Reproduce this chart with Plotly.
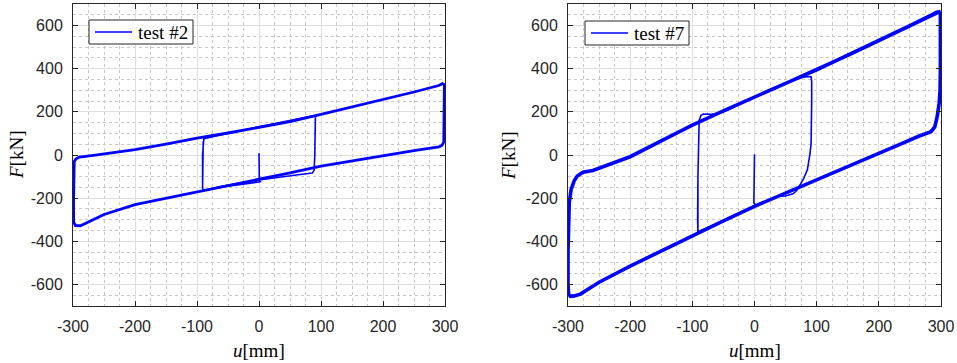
import plotly.graph_objects as go

# ---------------- data: test #2 ----------------
# initial spike + small (±90 mm) cycles
u2_small = [0.0, 0.3, 0.5, 2, -20, -50, -80, -90, -91, -91, -90, -88, -60, -30, 0, 30, 60, 89, 91, 91, 90, 89, 86,
            60, 30, 0, -30, -60, -90, -91, -91, -89, -60, -30, 0, 30, 60, 90]
F2_small = [8, -60, -118, -124, -132, -145, -160, -166, -150, 0, 60, 78, 95, 112, 128, 146, 165, 183, 180, 100, 0, -70, -84,
            -93, -103, -116, -130, -145, -166, -150, 0, 76, 94, 111, 127, 145, 164, 182]
# large (±300 mm) cycle
u2_big = [90, 150, 200, 250, 290, 296, 299, 299, 299, 298, 295, 290, 250, 200, 150, 100, 50, 0, -50, -100, -150, -200,
          -250, -278, -288, -296, -299, -299, -299, -298, -295, -290, -270, -250, -200, -150, -100, -50, 0, 50, 100,
          150, 200, 250, 290, 296, 299, 299]
F2_big = [182, 222, 258, 292, 322, 331, 326, 250, 120, 60, 44, 38, 20, -3, -28, -52, -83, -112, -142, -172, -200, -230,
          -276, -312, -328, -327, -310, -200, -80, -30, -18, -10, -3, 5, 25, 50, 78, 102, 127, 155, 188,
          222, 258, 292, 322, 331, 326, 200]

# ---------------- data: test #7 ----------------
u7_small = [0, -0.5, -1, 2, -20, -50, -80, -91, -91.5, -91, -90, -89, -86, -82, -70, -55, -40, -20, 0, 30, 60, 75, 85,
            91, 92, 92, 92, 91, 89, 85, 79, 73, 68, 62, 50, 36, 20, 0, -20, -50, -80, -91, -91, -89, -86, -82, -70,
            -55, -40, -20, 0, 30, 60]
F7_small = [3, -100, -222, -232, -262, -305, -345, -356, -300, -100, 100, 160, 184, 190, 189, 195, 212, 240, 270, 308,
            345, 358, 364, 363, 340, 250, 150, 50, 0, -69, -110, -138, -165, -180, -190, -192, -212, -238, -262, -305,
            -345, -356, -100, 160, 184, 190, 189, 195, 212, 240, 270, 308, 345]
u7_big = [60, 100, 150, 200, 250, 285, 293, 297, 299, 299.5, 299, 298.5, 297, 294, 290, 284, 275, 265, 230, 200, 150,
          100, 50, 0, -50, -100, -150, -200, -250, -280, -290, -296, -299, -300, -300, -299.5, -298, -295, -290, -285,
          -280, -276, -260, -250, -225, -200, -150, -100, -50, 0, 50, 100, 150, 200, 250, 285, 293, 297, 299]
F7_big = [345, 395, 462, 530, 600, 650, 662, 663, 655, 550, 400, 300, 240, 180, 130, 108, 100, 88, 45, 8, -50,
          -112, -175, -238, -305, -375, -445, -515, -590, -645, -653, -655, -645, -600, -450, -320, -220, -160, -120, -97,
          -85, -80, -72, -62, -36, -8, 65, 138, 205, 270, 332, 395, 462, 530, 600, 650, 662, 663, 655]

# ticks
x_ticks = [-300, -200, -100, 0, 100, 200, 300]
x_text = ["-300", "-200", "-100", "0", "100", "200", "300"]
y_ticks = [-600, -400, -200, 0, 200, 400, 600]
y_text = ["-600", "-400", "-200", "0", "200", "400", "600"]
legend_names = ["test #2", "test #7"]

BLUE = "#0000FF"
AX = "#262626"
W, H = 957, 363

fig = go.Figure()
fig.add_trace(go.Scatter(x=u2_small, y=F2_small, mode="lines", line=dict(color=BLUE, width=1.6),
                         name=legend_names[0], xaxis="x", yaxis="y", showlegend=False))
fig.add_trace(go.Scatter(x=u2_big, y=F2_big, mode="lines", line=dict(color=BLUE, width=2.8),
                         name=legend_names[0], showlegend=False, xaxis="x", yaxis="y"))
fig.add_trace(go.Scatter(x=u7_small, y=F7_small, mode="lines", line=dict(color=BLUE, width=1.6),
                         name=legend_names[1], xaxis="x2", yaxis="y2", showlegend=False))
fig.add_trace(go.Scatter(x=u7_big, y=F7_big, mode="lines", line=dict(color=BLUE, width=3.6),
                         name=legend_names[1], showlegend=False, xaxis="x2", yaxis="y2"))

ydom = [1 - 306 / H, 1 - 4 / H]
dom1 = [73 / W, 445 / W]
dom2 = [568 / W, 941 / W]

tickfont = dict(family="Liberation Sans, Arial, sans-serif", size=16, color=AX)


def xaxis(dom, anchor):
    return dict(domain=dom, anchor=anchor, range=[-300, 300], tickvals=x_ticks, ticktext=x_text,
                showline=True, linecolor=AX, linewidth=1, mirror="ticks", ticks="inside", ticklen=5,
                tickcolor=AX, tickfont=tickfont, showgrid=True, gridcolor="#dedede", gridwidth=1,
                zeroline=False, ticklabelstandoff=6, automargin=False,
                minor=dict(dtick=25, tick0=0, showgrid=True, gridcolor="#c8c8c8", griddash="dot", gridwidth=1,
                           ticks=""))


def yaxis(anchor):
    return dict(domain=ydom, anchor=anchor, range=[-700, 700], tickvals=y_ticks, ticktext=y_text,
                showline=True, linecolor=AX, linewidth=1, mirror="ticks", ticks="inside", ticklen=5,
                tickcolor=AX, tickfont=tickfont, showgrid=True, gridcolor="#dedede", gridwidth=1,
                zeroline=False, ticklabelstandoff=6, automargin=False,
                minor=dict(dtick=50, tick0=0, showgrid=True, gridcolor="#c8c8c8", griddash="dot", gridwidth=1,
                           ticks=""))


serif = "Liberation Serif, Times New Roman, serif"

fig.update_layout(
    width=W, height=H, margin=dict(l=0, r=0, t=0, b=0, autoexpand=False),
    paper_bgcolor="white", plot_bgcolor="white", showlegend=False,
    xaxis=xaxis(dom1, "y"), yaxis=yaxis("x"),
    xaxis2=xaxis(dom2, "y2"), yaxis2=yaxis("x2"),
)

# legend boxes (drawn in pixel positions converted to paper coords)
def px(x):
    return x / W


def py(y):
    return 1 - y / H


for (bx, by), name in zip([(89, 20), (585, 21)], legend_names):
    fig.add_shape(type="rect", xref="paper", yref="paper", x0=px(bx), x1=px(bx + 104), y0=py(by), y1=py(by + 24),
                  line=dict(color=AX, width=1), fillcolor="white", layer="above")
    fig.add_shape(type="line", xref="paper", yref="paper", x0=px(bx + 6), x1=px(bx + 43), y0=py(by + 12),
                  y1=py(by + 12), line=dict(color=BLUE, width=1.6), layer="above")
    fig.add_annotation(text=name, x=px(bx + 47), y=py(by + 12), xref="paper", yref="paper", showarrow=False,
                       xanchor="left", yanchor="middle", font=dict(family=serif, size=19, color="black"))

title_font = dict(family=serif, size=19, color="black")
for xc in [(73 + 445) / 2 / W, (568 + 941) / 2 / W]:
    fig.add_annotation(text="<i>u</i>[mm]", x=xc, y=1 - 350 / H, xref="paper", yref="paper",
                       showarrow=False, font=title_font, xanchor="center", yanchor="middle")
for xc in [16 / W, 508 / W]:
    fig.add_annotation(text="<i>F</i>[kN]", x=xc, y=1 - 155 / H, xref="paper", yref="paper",
                       showarrow=False, font=title_font, textangle=-90, xanchor="center", yanchor="middle")

fig.write_html("out.html", config={"displayModeBar": False},
               post_script="document.body.style.margin='0';document.body.style.overflow='hidden';")
